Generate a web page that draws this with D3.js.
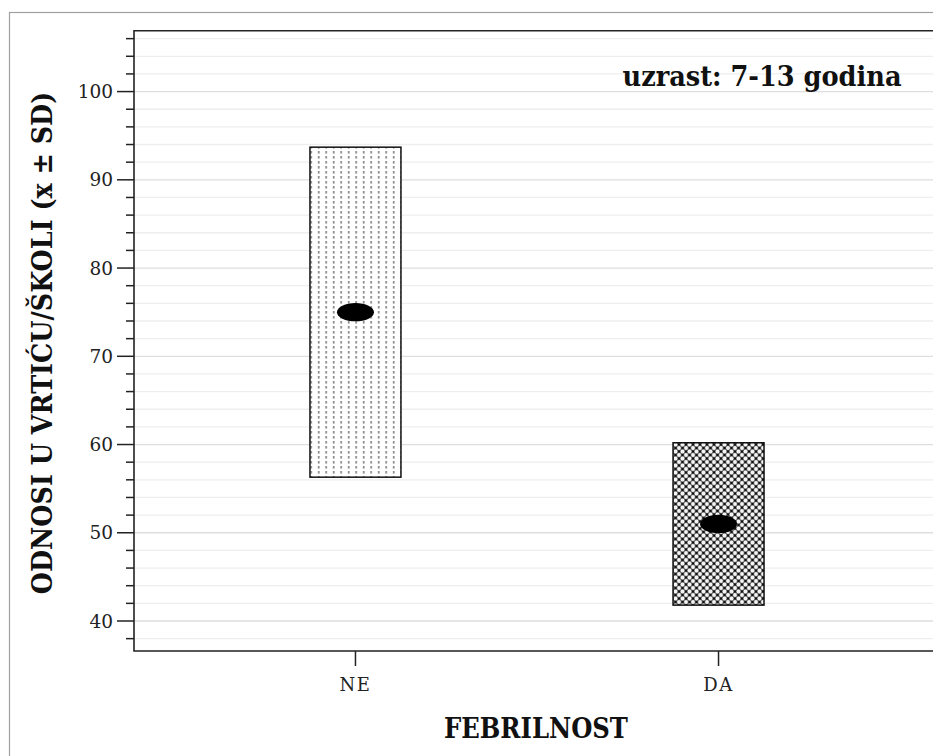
<!DOCTYPE html>
<html><head><meta charset="utf-8">
<script src="https://cdn.jsdelivr.net/npm/d3@7"></script>
<style>
html,body{margin:0;padding:0;background:#fff;}
svg{display:block;}
</style>
</head><body>
<script>
const categories = ["NE", "DA"];
const means = [75.0, 51.0];
const sds = [18.7, 9.2];
const patterns = ["dots", "cross"];
const majorTicks = [40, 50, 60, 70, 80, 90, 100];
const minorTicks = [38, 42, 44, 46, 48, 52, 54, 56, 58, 62, 64, 66, 68, 72, 74, 76, 78, 82, 84, 86, 88, 92, 94, 96, 98, 102, 104, 106];
const yTitle = "ODNOSI U VRTIĆU/ŠKOLI (x ± SD)";
const xTitle = "FEBRILNOST";
const note = "uzrast: 7-13 godina";

const W = 933, H = 756;
const plot = {left: 134, top: 30.7, right: 940, bottom: 651};

const svg = d3.select("body").append("svg").attr("width", W).attr("height", H);
const defs = svg.append("defs");

// dotted vertical pattern
const pd = defs.append("pattern").attr("id", "dots").attr("patternUnits", "userSpaceOnUse")
  .attr("width", 7.5).attr("height", 5);
pd.append("rect").attr("width", 7.5).attr("height", 5).attr("fill", "#fff");
pd.append("rect").attr("x", 3).attr("y", 1).attr("width", 1.4).attr("height", 2.6).attr("fill", "#707070");

// crosshatch pattern
const pc = defs.append("pattern").attr("id", "cross").attr("patternUnits", "userSpaceOnUse")
  .attr("width", 7).attr("height", 7);
pc.append("rect").attr("width", 7).attr("height", 7).attr("fill", "#5e5e5e");
[[0,0],[7,0],[0,7],[7,7],[3.5,3.5]].forEach(([cx,cy]) =>
  pc.append("circle").attr("cx", cx).attr("cy", cy).attr("r", 1.9).attr("fill", "#f4f4f4"));
[[3.5,0],[0,3.5],[7,3.5],[3.5,7]].forEach(([cx,cy]) =>
  pc.append("rect").attr("x", cx-1).attr("y", cy-1).attr("width", 2).attr("height", 2).attr("fill", "#111"));

// outer border
svg.append("rect").attr("x", 9.5).attr("y", 12.5).attr("width", W).attr("height", H)
  .attr("fill", "none").attr("stroke", "#a0a0a0").attr("stroke-width", 1.2);

const y = d3.scaleLinear().domain([36.6, 106.9]).range([plot.bottom, plot.top]);
const x = d3.scalePoint().domain(categories).range([plot.left, plot.right]).padding(0.61);

// gridlines
const grid = svg.append("g");
grid.selectAll("line.minor").data(minorTicks).join("line").attr("class", "minor")
  .attr("x1", plot.left).attr("x2", W).attr("y1", d => y(d)).attr("y2", d => y(d))
  .attr("stroke", "#eeeeee").attr("stroke-width", 1.3);
grid.selectAll("line.major").data(majorTicks).join("line").attr("class", "major")
  .attr("x1", plot.left).attr("x2", W).attr("y1", d => y(d)).attr("y2", d => y(d))
  .attr("stroke", "#dedede").attr("stroke-width", 1.3);

// boxes
const boxW = 91;
const g = svg.append("g");
categories.forEach((c, i) => {
  const top = y(means[i] + sds[i]), bot = y(means[i] - sds[i]);
  g.append("rect").attr("x", x(c) - boxW/2).attr("y", top).attr("width", boxW).attr("height", bot - top)
    .attr("fill", `url(#${patterns[i]})`).attr("stroke", "#111").attr("stroke-width", 1.5);
  g.append("ellipse").attr("cx", x(c)).attr("cy", y(means[i])).attr("rx", 18.5).attr("ry", 9.2).attr("fill", "#000");
});

// frame
svg.append("path").attr("d", `M${W+5},${plot.top}H${plot.left}V${plot.bottom}H${W+5}`)
  .attr("fill", "none").attr("stroke", "#222").attr("stroke-width", 1.6);

// y axis
const yAxis = svg.append("g").attr("transform", `translate(${plot.left},0)`);
yAxis.selectAll("line.minor").data(minorTicks).join("line")
  .attr("x1", -8).attr("x2", 0).attr("y1", d => y(d)).attr("y2", d => y(d))
  .attr("stroke", "#222").attr("stroke-width", 1.5);
yAxis.selectAll("line.major").data(majorTicks).join("line")
  .attr("x1", -17).attr("x2", 0).attr("y1", d => y(d)).attr("y2", d => y(d))
  .attr("stroke", "#222").attr("stroke-width", 1.5);
yAxis.selectAll("text").data(majorTicks).join("text")
  .attr("x", -21).attr("y", d => y(d)).attr("dy", "0.36em").attr("text-anchor", "end")
  .attr("font-family", "DejaVu Serif").attr("font-size", 18.5).attr("fill", "#222")
  .text(d => d);

// x axis
const xAxis = svg.append("g");
xAxis.selectAll("line").data(categories).join("line")
  .attr("x1", d => x(d)).attr("x2", d => x(d)).attr("y1", plot.bottom).attr("y2", plot.bottom + 15)
  .attr("stroke", "#222").attr("stroke-width", 1.5);
xAxis.selectAll("text").data(categories).join("text")
  .attr("x", d => x(d)).attr("y", 691).attr("text-anchor", "middle")
  .attr("font-family", "DejaVu Serif").attr("font-size", 18).attr("letter-spacing", 1.5).attr("fill", "#222")
  .text(d => d);

// titles
const boldFont = {family: "DejaVu Serif", stretch: "condensed"};
svg.append("text").attr("x", 536).attr("y", 738).attr("text-anchor", "middle")
  .attr("font-family", boldFont.family).attr("font-stretch", boldFont.stretch).attr("font-weight", "bold")
  .attr("font-size", 27).attr("fill", "#111").text(xTitle);
svg.append("text").attr("transform", "translate(52,343) rotate(-90)").attr("text-anchor", "middle")
  .attr("font-family", boldFont.family).attr("font-stretch", boldFont.stretch).attr("font-weight", "bold")
  .attr("font-size", 28.3).attr("fill", "#111").text(yTitle);
svg.append("text").attr("x", 762).attr("y", 86).attr("text-anchor", "middle")
  .attr("font-family", boldFont.family).attr("font-stretch", boldFont.stretch).attr("font-weight", "bold")
  .attr("font-size", 28.5).attr("fill", "#111").text(note);
</script>
</body></html>
